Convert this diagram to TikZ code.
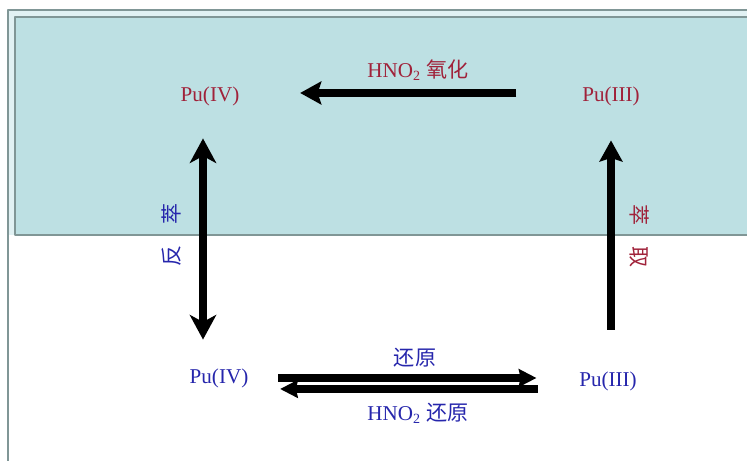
\documentclass[tikz,border=0pt]{standalone}
\usepackage{fontspec}
\setmainfont{Liberation Serif}
\newfontfamily\cjk{Noto Sans CJK SC}
\usepackage{xcolor}
\usepackage{tikz}
\usetikzlibrary{arrows.meta}
\usetikzlibrary{calc}

\definecolor{bandcyan}{RGB}{189,224,227}
\definecolor{framegray}{RGB}{128,150,150}
\definecolor{purd}{RGB}{160,34,58}
\definecolor{pblue}{RGB}{38,38,172}

\begin{document}
\begin{tikzpicture}[>=Stealth, line join=round,
    ion/.style={font=\fontsize{12}{14}\selectfont, inner sep=2pt},
    bigarrow/.style={line width=4.5pt, -{Stealth[length=12pt,width=13pt,inset=2pt]}},
    bigboth/.style={line width=4.5pt, {Stealth[length=14pt,width=15pt,inset=4pt]}-{Stealth[length=14pt,width=15pt,inset=4pt]}},
    thinarrow/.style={line width=4.2pt, -{Stealth[length=10pt,width=10pt,inset=1pt]}}]

    \useasboundingbox (0,0) rectangle (14.94,9.22);

    % organic phase band
    \fill[bandcyan!45] (0.16,4.52) rectangle (14.94,9.02);
    \fill[bandcyan] (0.30,4.52) rectangle (14.94,8.88);
    \draw[framegray, line width=1.1pt] (14.94,8.88) -- (0.30,8.88) -- (0.30,4.52) -- (14.94,4.52);
    \draw[framegray, line width=1.1pt] (0.16,0) -- (0.16,9.02) -- (14.94,9.02);

    \node[ion, text=purd] (p4top) at (4.20,7.30) {Pu(IV)};
    \node[ion, text=purd] (p3top) at (12.22,7.30) {Pu(III)};
    \node[ion, text=pblue] (p4bot) at (4.38,1.66) {Pu(IV)};
    \node[ion, text=pblue] (p3bot) at (12.16,1.60) {Pu(III)};

    \draw[bigarrow, shorten <=1.24cm, shorten >=1.14cm]
        ([yshift=0.06cm]p3top.west) -- ([yshift=0.06cm]p4top.east);
    \draw[bigboth, shorten <=0.58cm, shorten >=0.50cm]
        ([xshift=-0.14cm]p4top.south) -- ([xshift=-0.14cm]p4top.south |- p4bot.north);
    \draw[bigarrow, shorten <=0.76cm, shorten >=0.62cm]
        (p3top.south |- p3bot.north) -- (p3top.south);

    \draw[thinarrow, shorten <=0.52cm, shorten >=0.78cm]
        (p4bot.east) -- (p4bot.east -| p3bot.west);
    \draw[thinarrow, shorten <=0.75cm, shorten >=0.56cm]
        ([yshift=-0.22cm]p4bot.east -| p3bot.west) -- ([yshift=-0.22cm]p4bot.east);

    \node[ion, text=purd] (oxlab) at (8.36,7.82) {HNO\textsubscript{2} {\cjk 氧化}};
    \node[ion, text=pblue] (redlab) at (8.30,2.06) {\cjk 还原};
    \node[ion, text=pblue] (hredlab) at (8.36,0.96) {HNO\textsubscript{2} {\cjk 还原}};
    \node[ion, text=pblue, rotate=90] (bextlab) at (3.44,4.52) {\cjk 反\quad 萃};
    \node[ion, text=purd, rotate=-90] (extlab) at (12.80,4.50) {\cjk 萃\quad 取};

\end{tikzpicture}
\end{document}
